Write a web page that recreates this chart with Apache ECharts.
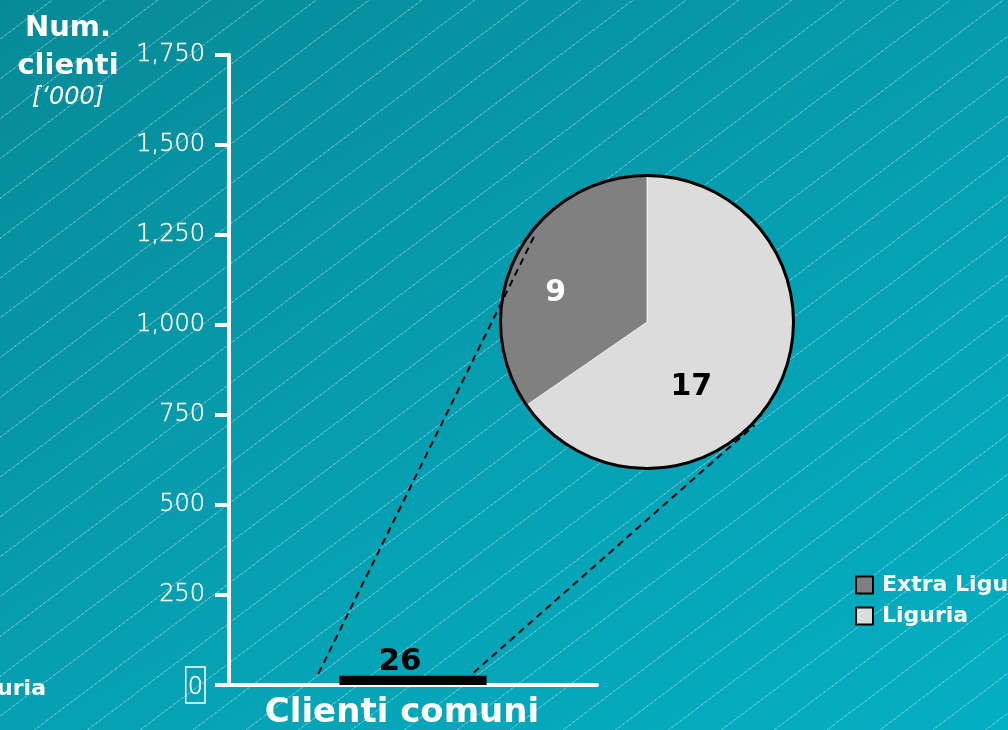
<!DOCTYPE html>
<html><head><meta charset="utf-8">
<script src="https://cdn.jsdelivr.net/npm/echarts@6/dist/echarts.min.js"></script>
<style>
html,body{margin:0;padding:0;}
#c{width:1008px;height:730px;
background:
 repeating-linear-gradient(143deg, rgba(255,255,255,0) 0px, rgba(255,255,255,0) 30.8px, rgba(255,255,255,0.28) 30.8px, rgba(255,255,255,0.28) 31.8px),
 linear-gradient(150deg, #078a97 0%, #06a0b2 55%, #04afc3 100%);}
</style></head><body><div id="c"></div>
<script>
const categories = ['Clienti comuni'];
const barValues = [26];
const pieNames = ['Liguria', 'Extra Liguria'];
const pieValues = [17, 9];
const pieColors = ['#dcdcdc', '#808080'];
const pieLabelColors = ['#000', '#fff'];
const legendNames = ['Extra Liguria', 'Liguria'];
const yMin = 0, yMax = 1750, yInterval = 250;

const BOLD = 'DejaVu Sans';
const LIGHT = 'DejaVu Sans';
const chart = echarts.init(document.getElementById('c'), null, {renderer: 'canvas'});

const pieCenter = [647, 322];
const pieR = 146;

const option = {
  backgroundColor: 'transparent',
  animation: false,
  title: {
    text: 'Num.\nclienti', subtext: "[‘000]",
    left: 63, top: 4, textAlign: 'center', itemGap: 1,
    textStyle: {fontFamily: BOLD, fontSize: 29, fontWeight: 'bold', color: '#fff', lineHeight: 38},
    subtextStyle: {fontFamily: LIGHT, fontSize: 24, fontStyle: 'italic', color: '#fff', padding: [0, 0, 0, 14]}
  },
  legend: {
    data: legendNames, orient: 'vertical', left: 855, top: 574, padding: 0,
    icon: 'rect', itemWidth: 17, itemHeight: 17, itemGap: 9,
    itemStyle: {borderColor: '#000', borderWidth: 2},
    textStyle: {fontFamily: BOLD, fontSize: 22, fontWeight: 'bold', color: '#fff', lineHeight: 17, padding: [0, 0, 0, 4]}
  },
  grid: {left: 229, right: 411, top: 55, bottom: 45, containLabel: false},
  xAxis: {
    type: 'category', data: categories,
    axisLine: {lineStyle: {color: '#fff', width: 4}},
    axisTick: {show: false},
    axisLabel: {fontFamily: BOLD, fontSize: 34, fontWeight: 'bold', color: '#fff', margin: 11, padding: [0, 22, 0, 0]}
  },
  yAxis: {
    type: 'value', min: yMin, max: yMax, interval: yInterval,
    splitLine: {show: false},
    axisLine: {show: true, lineStyle: {color: '#fff', width: 4}},
    axisTick: {show: true, length: 14, lineStyle: {color: '#fff', width: 4}},
    axisLabel: {
      fontFamily: LIGHT, fontSize: 24, fontWeight: 200, color: '#fff', margin: 24,
      textBorderColor: '#fff', textBorderWidth: 0.4,
      formatter: v => v === 0 ? '{z|0}' : v.toLocaleString('en-US'),
      rich: {z: {fontFamily: LIGHT, fontSize: 24, fontWeight: 200, color: '#fff', textBorderColor: '#fff', textBorderWidth: 0.4, borderColor: '#fff', borderWidth: 1.5, padding: [9, 2, 3, 2]}}
    }
  },
  series: [
    {
      type: 'bar', data: barValues, barWidth: '40%',
      itemStyle: {color: '#000'},
      label: {show: true, position: 'top', distance: 0, offset: [-13, 2], fontFamily: BOLD, fontSize: 31, fontWeight: 'bold', color: '#000'}
    },
    {
      type: 'pie', center: pieCenter, radius: [0, pieR], startAngle: 90, clockwise: true,
      silent: true,
      data: pieNames.map((n, i) => ({
        name: n, value: pieValues[i],
        itemStyle: {color: pieColors[i]},
        label: {color: pieLabelColors[i], offset: i === 0 ? [-23, 30] : [-24, 7]}
      })),
      itemStyle: {borderColor: 'rgba(255,255,255,0.7)', borderWidth: 1},
      label: {show: true, position: 'inside', formatter: '{c}', fontFamily: BOLD, fontSize: 30, fontWeight: 'bold'},
      labelLine: {show: false}
    },
    {
      type: 'pie', center: pieCenter, radius: [pieR - 1, pieR + 2], silent: true,
      data: [{name: 'outline', value: 1, itemStyle: {color: '#000'}}],
      label: {show: false}, labelLine: {show: false}
    }
  ]
};
chart.setOption(option);

// connector lines from bar to pie
const layout = chart.getModel().getSeriesByIndex(0).getData().getItemLayout(0);
const barLeft = Math.min(layout.x, layout.x + layout.width);
const barRight = Math.max(layout.x, layout.x + layout.width);
const barTop = Math.min(layout.y, layout.y + layout.height);
function onCircle(deg, r) {
  const a = deg * Math.PI / 180;
  return [pieCenter[0] + r * Math.cos(a), pieCenter[1] - r * Math.sin(a)];
}
const p1 = onCircle(142.2, pieR - 4), p2 = onCircle(-43.8, pieR + 3);
const dash = {stroke: '#000', lineWidth: 2, lineDash: [7, 5]};
chart.setOption({
  graphic: [
    {type: 'line', zlevel: 1, z: 100, shape: {x1: barLeft - 21, y1: barTop - 2, x2: p1[0], y2: p1[1]}, style: dash},
    {type: 'line', zlevel: 1, z: 100, shape: {x1: barRight - 13, y1: barTop - 3, x2: p2[0], y2: p2[1]}, style: dash},
    {type: 'text', z: 100, style: {x: 46, y: 689, text: 'Liguria', textAlign: 'right', textVerticalAlign: 'middle', fill: '#fff', font: 'bold 22px "DejaVu Sans"'}}
  ]
});
</script></body></html>
